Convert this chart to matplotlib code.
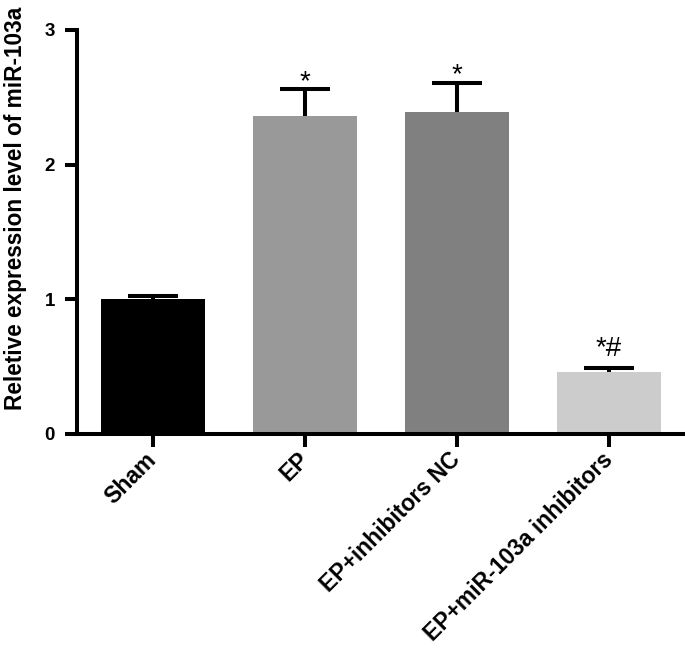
import matplotlib
matplotlib.use("Agg")
import matplotlib.pyplot as plt

categories = ["Sham", "EP", "EP+inhibitors NC", "EP+miR-103a inhibitors"]
means = [1.0, 2.36, 2.39, 0.46]
errors = [0.025, 0.20, 0.22, 0.033]
annotations = ["", "*", "*", "*#"]
colors = ["#000000", "#999999", "#808080", "#cccccc"]
yticks = [0, 1, 2, 3]

plt.rcParams["font.family"] = ["Liberation Sans", "DejaVu Sans"]

fig = plt.figure(figsize=(6.85, 6.5), dpi=100)
ax = fig.add_axes([77 / 685, 216 / 650, 608 / 685, 404 / 650])

x = list(range(len(categories)))
ax.bar(x, means, width=0.69, color=colors, zorder=2)
eb = ax.errorbar(x, means, yerr=[[0] * len(means), errors], fmt="none",
                 ecolor="black", elinewidth=2.9, capsize=18, capthick=2.9, zorder=1)
# hide the lower caps (only upper error shown)
eb[1][0].set_visible(False)

for xi, m, e, a in zip(x, means, errors, annotations):
    if a:
        off = 0.0 if a == "*" else 0.085
        ax.text(xi, m + e + off, a, ha="center", va="baseline",
                fontsize=20, color="black")

ax.set_xlim(-0.5, 3.5)
ax.set_ylim(0, 3)
ax.set_yticks(yticks)
ax.set_yticklabels([str(t) for t in yticks], fontsize=13.5, fontweight="bold")
ax.set_xticks(x)
ax.set_xticklabels(categories, rotation=45, ha="right", rotation_mode="anchor",
                   fontsize=16.5, fontweight="bold")
for lab in ax.get_xticklabels():
    lab.set_va("center")

fig.text(15.5 / 685, (650 - 208) / 650, "Reletive expression level of miR-103a",
         rotation=90, ha="center", va="center", fontsize=16.3, fontweight="bold")

for s in ["top", "right"]:
    ax.spines[s].set_visible(False)
for s in ["left", "bottom"]:
    ax.spines[s].set_linewidth(2.9)
ax.tick_params(axis="both", width=2.9, length=9, direction="out")
ax.tick_params(axis="y", pad=7)
ax.tick_params(axis="x", pad=7)

fig.savefig("out.png", dpi=100)
